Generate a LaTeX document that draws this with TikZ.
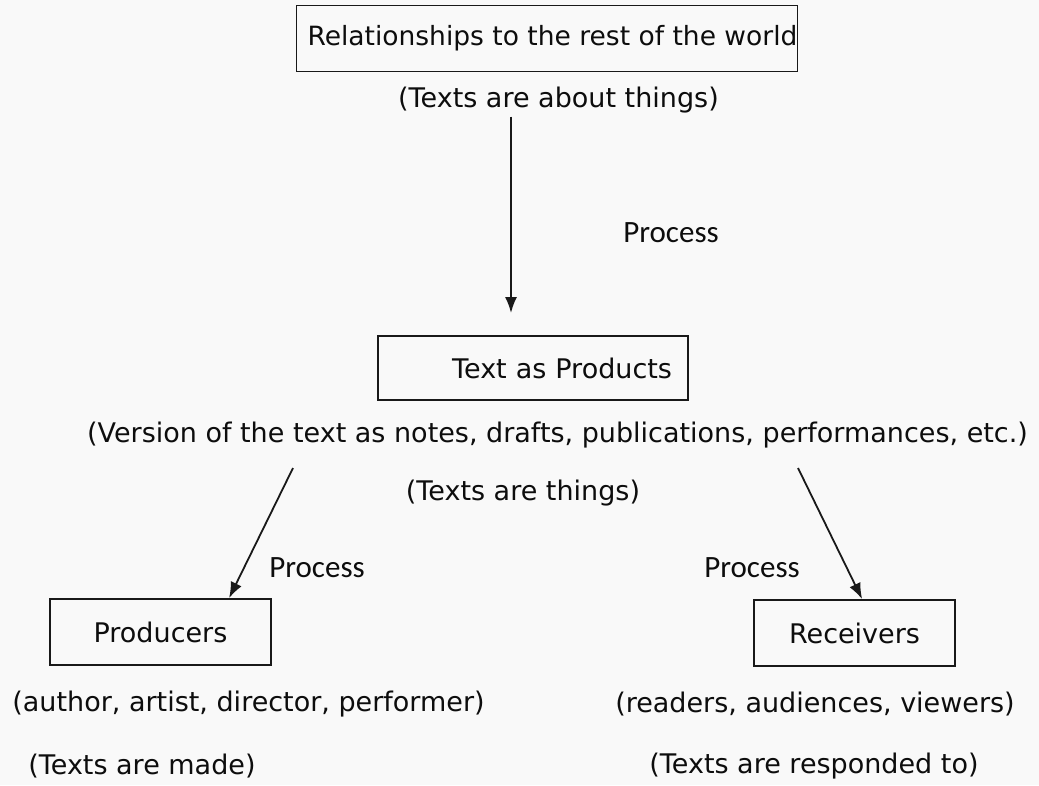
\documentclass[tikz,border=0pt]{standalone}
\usepackage{fontspec}
\setmainfont{DejaVu Sans}
\newfontfamily\procfont{Carlito}
\usetikzlibrary{arrows.meta}

\begin{document}
\begin{tikzpicture}[x=1pt, y=-1pt,
	box/.style={draw=black!90, line width=1.8pt, inner ysep=0pt, minimum height=66pt},
	txt/.style={font=\fontsize{27}{32}\selectfont, text=black!95},
	proc/.style={font=\procfont\fontsize{31}{36}\selectfont, text=black!95},
	arr/.style={-{Latex[length=16pt,width=12pt]}, line width=1.8pt, draw=black!90}]

	% Page
	\fill[gray!5] (0,0) rectangle (1039,785);
	\useasboundingbox (0,0) rectangle (1039,785);

	% Top box
	\node[box, txt, inner xsep=11pt] (world) at (547,38.5) {\makebox[479pt][l]{\fontsize{26.5}{32}\selectfont Relationships to the rest of the world}};
	\node[txt] (about) at (558.5,100) {(Texts are about things)};
	\node[proc] (proctop) at (671,233) {Process};

	% Middle box
	\node[box, txt, text width=278pt, align=right, inner xsep=16pt, minimum height=64pt] (products) at (533,368) {Text as Products};
	\node[txt] (version) at (557.5,435) {(Version of the text as notes, drafts, publications, performances, etc.)};
	\node[txt] (things) at (523,493) {(Texts are things)};

	%Left
	\node[box, txt, minimum width=221pt] (producers) at (160.5,632) {Producers};
	\node[proc] (procleft) at (317,568) {Process};
	\node[txt] (makers) at (248.5,704) {(author, artist, director, performer)};
	\node[txt] (made) at (142,766) {(Texts are made)};

	%Right
	\node[box, txt, minimum width=201pt] (receivers) at (854.5,633) {Receivers};
	\node[proc] (procright) at (752,568) {Process};
	\node[txt] (audience) at (815,704) {(readers, audiences, viewers)};
	\node[txt] (responded) at (814,766) {(Texts are responded to)};

	% Arrows
	\coordinate (aim) at (511,313);
	\coordinate (lstart) at (293,468);
	\coordinate (rstart) at (798,468);
	\draw[arr] (about.south -| aim) -- (aim);
	\draw[arr] (lstart) -- ([xshift=180pt]producers.north west);
	\draw[arr] (rstart) -- ([xshift=109pt]receivers.north west);

\end{tikzpicture}
\end{document}
